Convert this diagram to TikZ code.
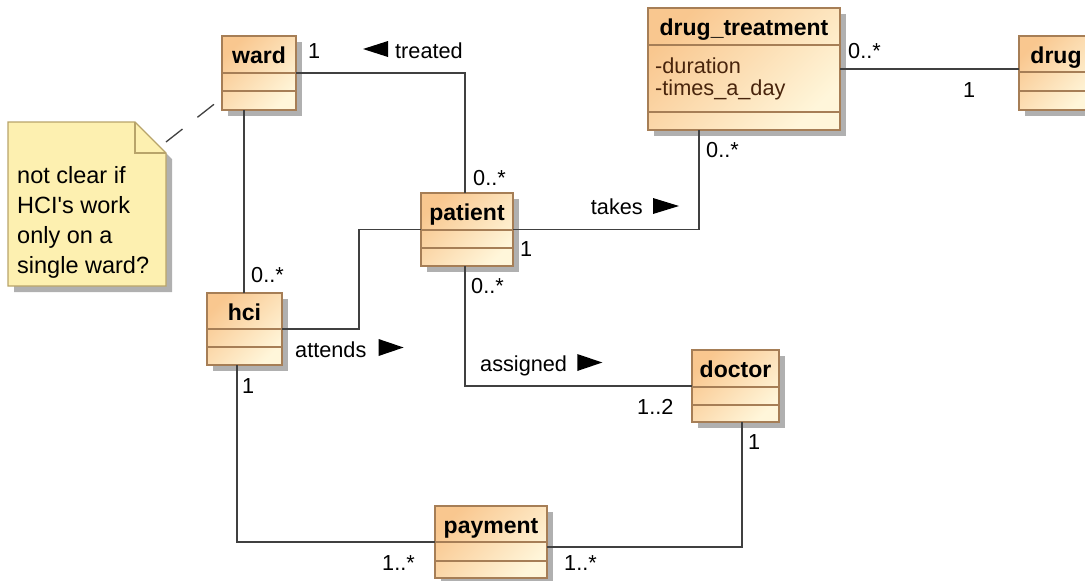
\documentclass[tikz,border=0pt]{standalone}
\usepackage{fontspec}
\setmainfont{Liberation Sans}
\usetikzlibrary{shadows}
\definecolor{clstop}{RGB}{249,199,143}
\definecolor{clsbot}{RGB}{255,246,218}
\definecolor{clsedge}{RGB}{166,126,86}
\definecolor{notefill}{RGB}{253,240,176}
\definecolor{noteedge}{RGB}{184,164,106}
\definecolor{linegray}{RGB}{64,64,64}
\definecolor{shadowgray}{RGB}{176,176,176}
\definecolor{attrcol}{RGB}{72,36,12}
\begin{document}
\begin{tikzpicture}[x=1pt,y=-1pt,
    cls/.style={draw=clsedge, line width=1.2pt, top color=clstop, bottom color=clsbot, shading angle=45,
      anchor=north west, inner sep=0pt, outer sep=0pt,
      drop shadow={shadow xshift=6pt, shadow yshift=-6pt, fill=shadowgray, opacity=1}},
    clstitle/.style={font=\fontsize{23}{28}\selectfont\bfseries, anchor=base, inner sep=0pt},
    compart/.style={draw=clsedge, line width=1.2pt},
    attr/.style={font=\fontsize{21.7}{22}\selectfont, text=attrcol, align=left, anchor=north west, inner sep=0pt},
    notetext/.style={font=\fontsize{23.5}{30}\selectfont, align=left, anchor=north west, inner sep=0pt},
    assoc/.style={draw=linegray, line width=1.3pt},
    mult/.style={font=\fontsize{21.7}{26}\selectfont, anchor=base west, inner sep=0pt},
  ]
  \useasboundingbox (0,0) rectangle (1085,581);

  \fill[shadowgray] (14,128) -- (141,128) -- (172,159) -- (172,292) -- (14,292) -- cycle;
  \filldraw[fill=notefill, draw=noteedge, line width=1.2pt] (8,122) -- (135,122) -- (166,153) -- (166,286) -- (8,286) -- cycle;
  \draw[draw=noteedge, line width=1.2pt] (135,122) -- (135,153) -- (166,153);
  \node[notetext] (note) at (17,166) {not clear if\\HCI\textquotesingle s work\\only on a\\single ward?};
  \coordinate (notecorner) at (166,142);

  \node[cls, minimum width=74pt, minimum height=74pt] (ward) at (222,36) {};
  \node[clstitle] (wardtitle) at ([yshift=-27.5pt]ward.north) {ward};
  \draw[compart] (ward.north west) ++(0,37) -- ++(74,0) (ward.north west) ++(0,55) -- ++(74,0);

  \node[cls, minimum width=92pt, minimum height=73pt] (patient) at (421,193) {};
  \node[clstitle] (patienttitle) at ([yshift=-27.5pt]patient.north) {patient};
  \draw[compart] (patient.north west) ++(0,37) -- ++(92,0) (patient.north west) ++(0,55) -- ++(92,0);

  \node[cls, minimum width=75pt, minimum height=72pt] (hci) at (207,293) {};
  \node[clstitle] (hcititle) at ([yshift=-27.5pt]hci.north) {hci};
  \draw[compart] (hci.north west) ++(0,36) -- ++(75,0) (hci.north west) ++(0,54) -- ++(75,0);

  \node[cls, minimum width=87pt, minimum height=72pt] (doctor) at (692,350) {};
  \node[clstitle] (doctortitle) at ([yshift=-27.5pt]doctor.north) {doctor};
  \draw[compart] (doctor.north west) ++(0,37) -- ++(87,0) (doctor.north west) ++(0,55) -- ++(87,0);

  \node[cls, minimum width=112pt, minimum height=72pt] (payment) at (435,506) {};
  \node[clstitle] (paymenttitle) at ([yshift=-27.5pt]payment.north) {payment};
  \draw[compart] (payment.north west) ++(0,36) -- ++(112,0) (payment.north west) ++(0,55) -- ++(112,0);

  \node[cls, minimum width=192pt, minimum height=122pt] (drugtreatment) at (648,8) {};
  \node[clstitle] (drugtreatmenttitle) at ([yshift=-27.5pt]drugtreatment.north) {drug\_treatment};
  \draw[compart] (drugtreatment.north west) ++(0,37) -- ++(192,0) (drugtreatment.north west) ++(0,104) -- ++(192,0);
  \node[attr] (drugtreatmentattrs) at (655,57.5) {-duration\\-times\_a\_day};

  \node[cls, minimum width=74pt, minimum height=74pt] (drug) at (1019,36) {};
  \node[clstitle] (drugtitle) at ([yshift=-27.5pt]drug.north) {drug};
  \draw[compart] (drug.north west) ++(0,36) -- ++(74,0) (drug.north west) ++(0,55) -- ++(74,0);

  \draw[assoc, dash pattern=on 21pt off 19pt] (notecorner) -- ([yshift=12pt]ward.south west);
  \draw[assoc] (ward.east) -| ([xshift=-2pt]patient.north);
  \draw[assoc] ([xshift=-0.5pt]hci.north) -- ([xshift=-0.5pt]hci.north |- ward.south);
  \draw[assoc] (hci.east) -| ([xshift=-62pt]patient.west) -- (patient.west);
  \draw[assoc] (patient.east) -| ([xshift=-45pt]drugtreatment.south);
  \draw[assoc] ([xshift=-2pt]patient.south) |- (doctor.west);
  \draw[assoc] ([yshift=-5pt]payment.east) -| ([xshift=6.5pt]doctor.south);
  \draw[assoc] (payment.west) -| ([xshift=-7.5pt]hci.south);
  \draw[assoc] (drugtreatment.east) -- (drugtreatment.east -| drug.west);

  \node[mult] (wardmult) at (308,58) {1};
  \node[mult] (treated) at (395,58) {treated};
  \fill ([xshift=-7pt,yshift=1pt]treated.base west) -- ++(0,-16) -- ++(-25,8) -- cycle;
  \node[mult] (patienttopmult) at (473,185) {0..*};
  \node[mult] (hcitopmult) at (251,282) {0..*};
  \node[mult, anchor=base east] (takes) at (643,214) {takes};
  \fill ([xshift=10pt]takes.base east) -- ++(0,-16) -- ++(26,8) -- cycle;
  \node[mult] (patientrightmult) at (520,256) {1};
  \node[mult] (patientbotmult) at (471,293) {0..*};
  \node[mult] (attends) at (295,357) {attends};
  \fill ([xshift=12pt,yshift=1pt]attends.base east) -- ++(0,-17) -- ++(25,8.5) -- cycle;
  \node[mult] (hcibotmult) at (242,393) {1};
  \node[mult] (assigned) at (480,371) {assigned};
  \fill ([xshift=10pt]assigned.base east) -- ++(0,-17) -- ++(25,8.5) -- cycle;
  \node[mult] (doctorleftmult) at (637,414) {1..2};
  \node[mult] (doctorbotmult) at (748,449) {1};
  \node[mult] (paymentleftmult) at (382,570) {1..*};
  \node[mult] (paymentrightmult) at (564,570) {1..*};
  \node[mult] (drugtreatmentrightmult) at (848,58) {0..*};
  \node[mult] (drugmult) at (963,97) {1};
  \node[mult] (drugtreatmentbotmult) at (706,157) {0..*};
\end{tikzpicture}
\end{document}
